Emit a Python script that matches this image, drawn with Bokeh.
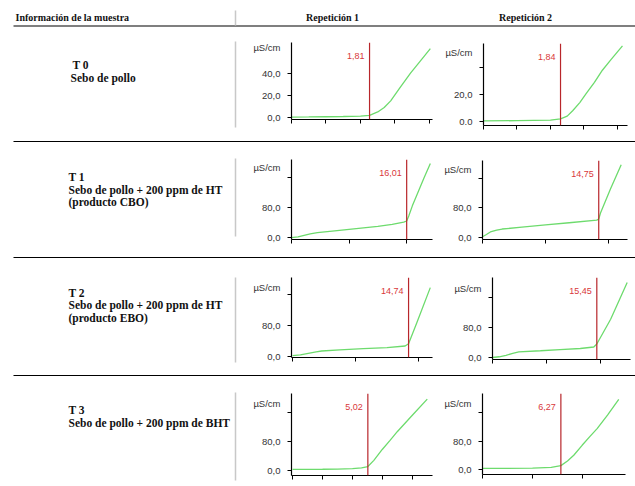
from bokeh.plotting import figure
from bokeh.layouts import column, row
from bokeh.models import Range1d, FixedTicker, Span, Label
from bokeh.core.properties import value
from bokeh.embed import file_html
from bokeh.resources import INLINE

# ---------------- data ----------------
header_left = "Información de la muestra"
header_reps = ["Repetición 1", "Repetición 2"]

sample_codes = ["T 0", "T 1", "T 2", "T 3"]
sample_desc = [
    ["Sebo de pollo"],
    ["Sebo de pollo + 200 ppm de HT", "(producto CBO)"],
    ["Sebo de pollo + 200 ppm de HT", "(producto EBO)"],
    ["Sebo de pollo + 200 ppm de BHT"],
]

y_unit = "µS/cm"

induction_times = [[1.81, 1.84], [16.01, 14.75], [14.74, 15.45], [5.02, 6.27]]
induction_labels = [["1,81", "1,84"], ["16,01", "14,75"], ["14,74", "15,45"], ["5,02", "6,27"]]

# conductivity curves (time in h, conductivity in µS/cm)
t0_rep1_t = [0, 0.4, 0.8, 1.2, 1.6, 1.81, 2.0, 2.15, 2.3, 2.5, 2.76, 3.0, 3.22]
t0_rep1_c = [0.4, 0.5, 0.7, 0.9, 1.3, 2.0, 5.0, 9.0, 15.0, 26.0, 40.0, 51.5, 62.0]
t0_rep2_t = [0, 0.8, 1.6, 1.84, 2.0, 2.13, 2.3, 2.46, 2.65, 2.84, 3.05, 3.32]
t0_rep2_c = [0.5, 0.6, 1.0, 2.0, 4.0, 8.0, 14.0, 21.0, 29.0, 38.0, 46.0, 56.0]
t1_rep1_t = [0, 0.9, 2.6, 3.6, 6, 9, 12, 14, 15.6, 16.01, 16.3, 16.8, 17.5, 18.4, 19.3]
t1_rep1_c = [1, 3, 11, 14, 19, 25, 31, 36, 42, 45, 58, 85, 117, 158, 197]
t1_rep2_t = [0, 0.5, 1.0, 1.8, 2.5, 5, 8, 11, 14.5, 14.75, 15.0, 16.25, 17.6]
t1_rep2_c = [2, 8, 15, 20, 23, 28, 34, 40, 47, 50, 68, 132, 197]
t2_rep1_t = [0, 1, 2, 3, 3.7, 6, 9, 12, 14.3, 14.74, 15.8, 17.5]
t2_rep1_c = [1, 3, 7, 11, 13, 16, 19, 22, 26, 32, 87, 178]
t2_rep2_t = [0, 1, 2, 3, 3.9, 7.1, 10, 13, 15, 15.45, 17.5, 19.95]
t2_rep2_c = [0, 2, 6, 11, 15, 18, 21, 24, 28, 36, 102, 200]
t3_rep1_t = [0, 1, 2, 3, 4, 4.6, 5.02, 5.42, 5.98, 6.5, 6.98, 8, 8.98]
t3_rep1_c = [3, 3.2, 3.5, 4, 5, 7, 11, 28, 58, 83, 107, 153, 197]
t3_rep2_t = [0, 2, 4, 5.5, 6.27, 6.8, 7.3, 7.97, 8.6, 9.17, 10, 10.9]
t3_rep2_c = [3, 3.3, 4, 6, 11, 24, 40, 68, 93, 115, 153, 197]

curves = [
    [(t0_rep1_t, t0_rep1_c), (t0_rep2_t, t0_rep2_c)],
    [(t1_rep1_t, t1_rep1_c), (t1_rep2_t, t1_rep2_c)],
    [(t2_rep1_t, t2_rep1_c), (t2_rep2_t, t2_rep2_c)],
    [(t3_rep1_t, t3_rep1_c), (t3_rep2_t, t3_rep2_c)],
]

x_ticks = [
    [[0, 0.8, 1.6, 2.4, 3.2], [0, 0.8, 1.6, 2.4, 3.2]],
    [[0, 8, 16], [0, 8, 16]],
    [[0, 8, 16], [0, 8, 16]],
    [[0, 2, 4, 6, 8], [0, 4, 8]],
]
# tick marks on the y axes, and which of them carry a label
y_ticks_t0 = [0, 20, 40]
y_ticks_rest = [0, 80, 160]
y_labels_t0_rep1 = {0: "0,0", 20: "20,0", 40: "40,0"}
y_labels_t0_rep2 = {0: "0.0", 20: "20,0"}
y_labels_rest = {0: "0,0", 80: "80,0"}
y_ticks = [[y_ticks_t0, y_ticks_t0], [y_ticks_rest] * 2, [y_ticks_rest] * 2, [y_ticks_rest] * 2]
y_labels = [[y_labels_t0_rep1, y_labels_t0_rep2], [y_labels_rest] * 2,
            [y_labels_rest] * 2, [y_labels_rest] * 2]

# ---------------- layout / style ----------------
LEFT_W, C1_W, C2_W = 237, 198, 200
TOTAL_W = LEFT_W + C1_W + C2_W
HEADER_H = 27
SEP_H = 14
SEP_TOP = [131, 247, 365]
SEP_LINE = [141, 257, 375]
ROW_TOP = [27, 145, 261, 379]
ROW_H = [104, 102, 104, 107]
# border_left, border_right, border_top, border_bottom, x0, x1, y0, y1, unit-label offset
geom = [
    [(54, 3, 15, 12, 0, 3.27, -1.8, 67.6, 5), (48, 8, 16, 6, 0, 3.44, -2.96, 57.8, 9)],
    [(54, 3, 14, 8, 0, 19.6, -4.0, 207.7, 8), (47, 8, 15, 8, 0, 18.4, -5.4, 208.7, 9)],
    [(54, 3, 16, 8, -0.13, 17.78, -3.9, 204.4, 10), (57, 5, 16, 6, 0, 20.44, -5.3, 213.3, 11)],
    [(54, 3, 14, 11, -0.07, 9.33, -13.8, 212.4, 10), (47, 10, 14, 12, 0, 11.44, -14.0, 213.5, 10)],
]
text_pos = [
    [(72, 64), (70, 77)],
    [(68, 176), (68, 189), (68, 201.5)],
    [(68, 292), (68, 304.5), (68, 317)],
    [(68, 409), (68, 422)],
]
vline_span = [(41, 127), (158, 236), (277, 362), (392, 480)]

SERIF = "Liberation Serif"
SANS = "Liberation Sans"
GREEN = "#6ddb6d"
RED_LINE = "#b8262b"
RED_TXT = "#d9383a"


def blank_fig(w, h, xr, yr):
    p = figure(width=w, height=h, output_backend="svg", toolbar_location=None,
               x_range=Range1d(*xr), y_range=Range1d(*yr), title=None,
               x_axis_type=None, y_axis_type=None,
               min_border=0, min_border_left=0, min_border_right=0,
               min_border_top=0, min_border_bottom=0)
    p.grid.visible = False
    p.outline_line_color = None
    p.background_fill_color = "white"
    p.border_fill_color = "white"
    return p


def make_chart(w, h, g, t, c, xt, yt, yl, tind, tlab):
    bl, br, bt, bb, x0, x1, y0, y1, uoff = g
    p = figure(width=w, height=h, output_backend="svg", toolbar_location=None,
               x_range=Range1d(x0, x1), y_range=Range1d(y0, y1), title=None,
               min_border_left=bl, min_border_right=br,
               min_border_top=bt, min_border_bottom=bb)
    p.grid.visible = False
    p.outline_line_color = None
    p.background_fill_color = "white"
    p.border_fill_color = "white"

    # x axis: only tick marks (drawn as minor ticks), no labels
    ax = p.xaxis[0]
    ax.ticker = FixedTicker(ticks=[], minor_ticks=xt)
    ax.major_tick_out = 0
    ax.major_tick_in = 0
    ax.minor_tick_out = 4
    ax.minor_tick_in = 0
    ax.minor_tick_line_color = "black"
    ax.axis_line_color = "black"
    ax.axis_line_width = 1.2

    # y axis: tick marks as minor ticks, labels (incl. unit) as major ticks
    frame_h = h - bt - bb
    unit_val = y1 - uoff * (y1 - y0) / frame_h
    labelled = [v for v in yt if v in yl] + [unit_val]
    overrides = dict(yl)
    overrides[unit_val] = y_unit
    ay = p.yaxis[0]
    ay.ticker = FixedTicker(ticks=labelled, minor_ticks=yt)
    ay.major_label_overrides = overrides
    ay.major_tick_out = 0
    ay.major_tick_in = 0
    ay.minor_tick_out = 4
    ay.minor_tick_in = 0
    ay.minor_tick_line_color = "black"
    ay.major_label_standoff = 7
    ay.axis_line_color = "black"
    ay.axis_line_width = 1.2
    ay.major_label_text_font = SANS
    ay.major_label_text_font_size = "9.5px"
    ay.major_label_text_color = "#333333"

    p.add_layout(Span(location=tind, dimension="height", line_color=RED_LINE, line_width=1.2))
    p.line(t, c, line_color=GREEN, line_width=1.3)
    p.add_layout(Label(x=tind, y=y1, x_offset=-5, y_offset=-13, text=tlab,
                       text_align="right", text_baseline="middle",
                       text_font=SANS, text_font_size="9px", text_color=RED_TXT))
    return p


def separator(i):
    s0 = SEP_TOP[i]
    sep = blank_fig(TOTAL_W, SEP_H, (0, TOTAL_W), (s0 + SEP_H, s0))
    sep.segment(x0=[13], y0=[SEP_LINE[i]], x1=[TOTAL_W], y1=[SEP_LINE[i]],
                line_color="black", line_width=1.2)
    return column(sep)


# header
hdr = blank_fig(TOTAL_W, HEADER_H, (0, TOTAL_W), (HEADER_H, 0))
hdr.text(x=[15, 332, 525], y=[17, 17, 17], text=[header_left] + header_reps,
         text_align=["left", "center", "center"], text_baseline="middle",
         text_font=value(SERIF), text_font_style="bold", text_font_size="10px",
         text_color="#111111")
hdr.segment(x0=[13], y0=[25.5], x1=[TOTAL_W], y1=[25.5], line_color="black", line_width=1.2)
hdr.segment(x0=[235], y0=[10], x1=[235], y1=[25], line_color="#c8c8c8", line_width=1.5)

items = [column(hdr)]
for i in range(4):
    top = ROW_TOP[i]
    bottom = top + ROW_H[i]
    left = blank_fig(LEFT_W, ROW_H[i], (0, LEFT_W), (bottom, top))
    lines = [sample_codes[i]] + sample_desc[i]
    xs = [pt[0] for pt in text_pos[i]]
    ys = [pt[1] for pt in text_pos[i]]
    left.text(x=xs, y=ys, text=lines, text_align="left", text_baseline="middle",
              text_font=value(SERIF), text_font_style="bold", text_font_size="11.5px",
              text_color="#111111")
    left.segment(x0=[235], y0=[vline_span[i][0]], x1=[235], y1=[vline_span[i][1]],
                 line_color="#c8c8c8", line_width=1.5)
    cells = [column(left)]
    for j, w in enumerate([C1_W, C2_W]):
        t, c = curves[i][j]
        cells.append(column(make_chart(w, ROW_H[i], geom[i][j], t, c, x_ticks[i][j],
                                       y_ticks[i][j], y_labels[i][j],
                                       induction_times[i][j], induction_labels[i][j])))
    items.append(row(*cells))
    if i < 3:
        items.append(separator(i))

layout = column(*items)

open("out.html", "w").write(file_html(layout, INLINE))
